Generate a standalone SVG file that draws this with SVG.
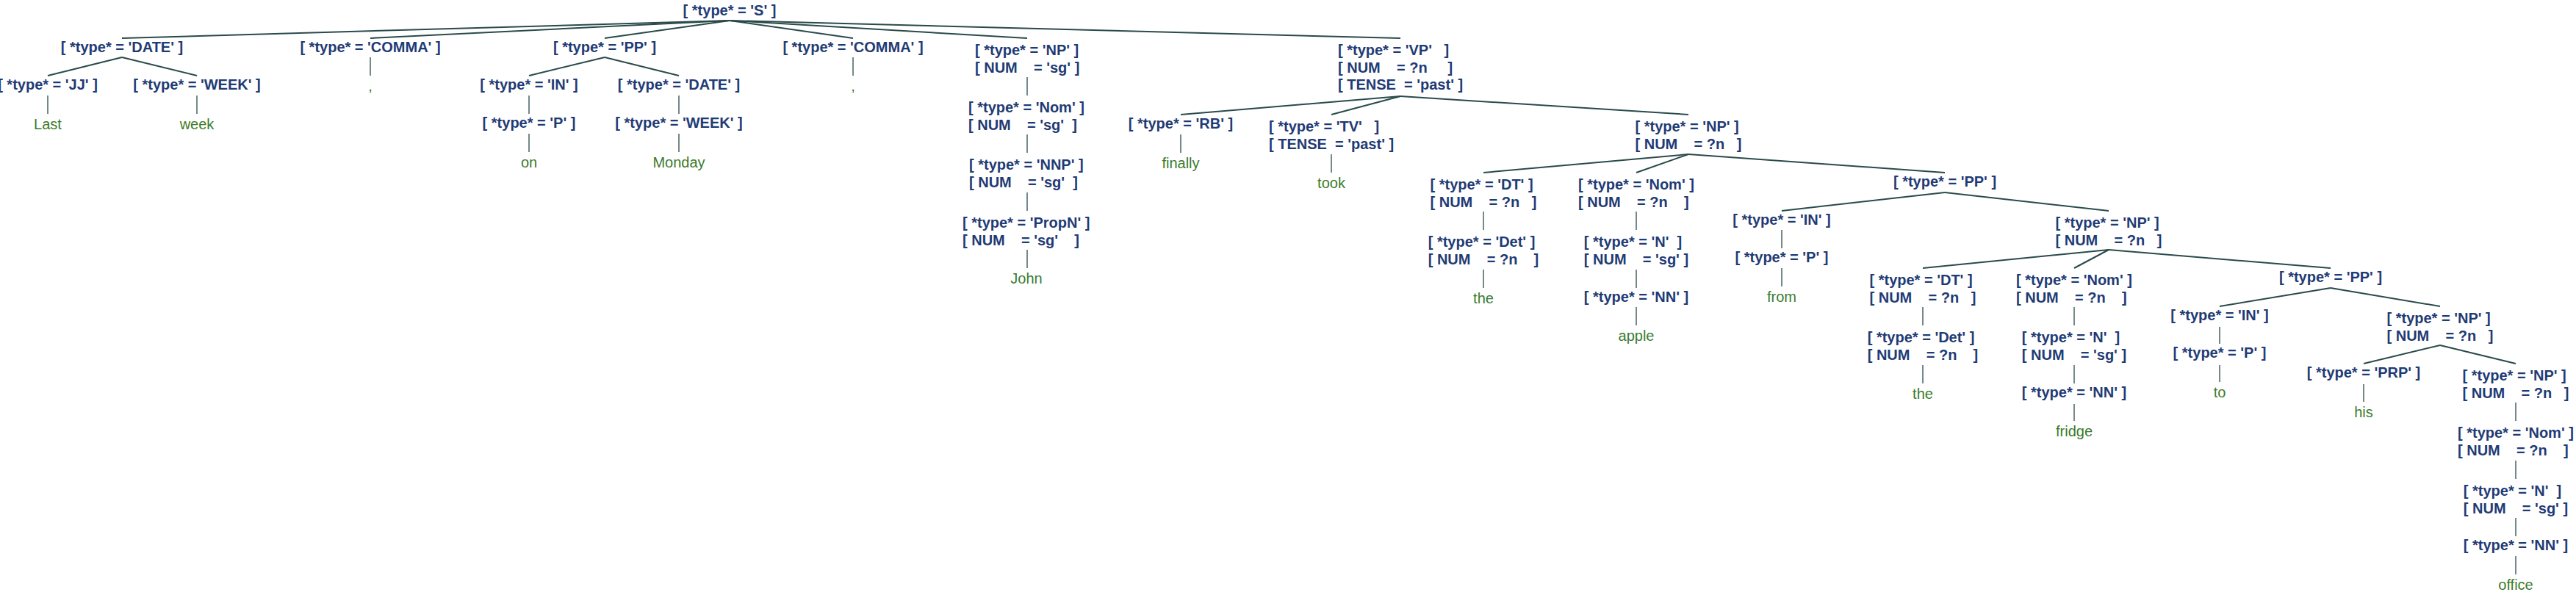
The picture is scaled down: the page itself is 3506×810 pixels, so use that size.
<svg xmlns="http://www.w3.org/2000/svg" width="3506" height="810" viewBox="0 0 3506 810">
<style>
.n{font-family:"Liberation Sans",Arial,sans-serif;font-weight:bold;font-size:20px;fill:#1f3b75}
.l{font-family:"Liberation Sans",Arial,sans-serif;font-size:20px;fill:#3b7b2c;text-anchor:middle}
.c{text-anchor:middle}
.e{stroke:#2a4a4a;stroke-width:2;fill:none}
.v{stroke:#2a4a4a;stroke-width:1.3;fill:none}
</style>
<rect width="3506" height="810" fill="#fff"/>
<g id="connectors">
<line class="e" x1="993" y1="28" x2="166" y2="52"/>
<line class="e" x1="993" y1="28" x2="504" y2="52"/>
<line class="e" x1="993" y1="28" x2="823" y2="52"/>
<line class="e" x1="993" y1="28" x2="1161" y2="52"/>
<line class="e" x1="993" y1="28" x2="1398" y2="52"/>
<line class="e" x1="993" y1="28" x2="1906" y2="52"/>
<line class="e" x1="166" y1="78" x2="65" y2="103"/>
<line class="e" x1="166" y1="78" x2="268" y2="103"/>
<line class="v" x1="65" y1="130" x2="65" y2="155"/>
<line class="v" x1="268" y1="130" x2="268" y2="155"/>
<line class="v" x1="504" y1="78" x2="504" y2="103"/>
<line class="e" x1="823" y1="78" x2="720" y2="103"/>
<line class="e" x1="823" y1="78" x2="924" y2="103"/>
<line class="v" x1="720" y1="130" x2="720" y2="155"/>
<line class="v" x1="720" y1="182" x2="720" y2="207"/>
<line class="v" x1="924" y1="130" x2="924" y2="155"/>
<line class="v" x1="924" y1="182" x2="924" y2="207"/>
<line class="v" x1="1161" y1="78" x2="1161" y2="103"/>
<line class="v" x1="1398" y1="105" x2="1398" y2="130"/>
<line class="v" x1="1398" y1="183" x2="1398" y2="208"/>
<line class="v" x1="1398" y1="262" x2="1398" y2="287"/>
<line class="v" x1="1398" y1="340" x2="1398" y2="365"/>
<line class="e" x1="1906" y1="131" x2="1607" y2="156"/>
<line class="e" x1="1906" y1="131" x2="1812" y2="156"/>
<line class="e" x1="1906" y1="131" x2="2298" y2="156"/>
<line class="v" x1="1607" y1="183" x2="1607" y2="208"/>
<line class="v" x1="1812" y1="210" x2="1812" y2="235"/>
<line class="e" x1="2298" y1="210" x2="2019" y2="235"/>
<line class="e" x1="2298" y1="210" x2="2227" y2="235"/>
<line class="e" x1="2298" y1="210" x2="2647" y2="235"/>
<line class="v" x1="2019" y1="288" x2="2019" y2="313"/>
<line class="v" x1="2019" y1="367" x2="2019" y2="392"/>
<line class="v" x1="2227" y1="288" x2="2227" y2="313"/>
<line class="v" x1="2227" y1="367" x2="2227" y2="392"/>
<line class="v" x1="2227" y1="418" x2="2227" y2="443"/>
<line class="e" x1="2647" y1="262" x2="2425" y2="287"/>
<line class="e" x1="2647" y1="262" x2="2870" y2="287"/>
<line class="v" x1="2425" y1="313" x2="2425" y2="338"/>
<line class="v" x1="2425" y1="365" x2="2425" y2="390"/>
<line class="e" x1="2870" y1="340" x2="2617" y2="365"/>
<line class="e" x1="2870" y1="340" x2="2823" y2="365"/>
<line class="e" x1="2870" y1="340" x2="3172" y2="365"/>
<line class="v" x1="2617" y1="418" x2="2617" y2="443"/>
<line class="v" x1="2617" y1="497" x2="2617" y2="522"/>
<line class="v" x1="2823" y1="418" x2="2823" y2="443"/>
<line class="v" x1="2823" y1="497" x2="2823" y2="522"/>
<line class="v" x1="2823" y1="550" x2="2823" y2="573"/>
<line class="e" x1="3172" y1="392" x2="3021" y2="417"/>
<line class="e" x1="3172" y1="392" x2="3321" y2="417"/>
<line class="v" x1="3021" y1="445" x2="3021" y2="468"/>
<line class="v" x1="3021" y1="497" x2="3021" y2="520"/>
<line class="e" x1="3321" y1="470" x2="3217" y2="495"/>
<line class="e" x1="3321" y1="470" x2="3424" y2="495"/>
<line class="v" x1="3217" y1="523" x2="3217" y2="547"/>
<line class="v" x1="3424" y1="548" x2="3424" y2="573"/>
<line class="v" x1="3424" y1="627" x2="3424" y2="652"/>
<line class="v" x1="3424" y1="705" x2="3424" y2="730"/>
<line class="v" x1="3424" y1="757" x2="3424" y2="782"/>
</g>
<g id="node-S"><text class="n c" x="993" y="21" xml:space="preserve">[ *type* = 'S' ]</text></g>
<g id="node-DATE1"><text class="n c" x="166" y="71" xml:space="preserve">[ *type* = 'DATE' ]</text></g>
<g id="node-JJ"><text class="n c" x="65" y="122" xml:space="preserve">[ *type* = 'JJ' ]</text></g>
<g id="leaf-Last"><text class="l" x="65" y="176">Last</text></g>
<g id="node-WEEK1"><text class="n c" x="268" y="122" xml:space="preserve">[ *type* = 'WEEK' ]</text></g>
<g id="leaf-week"><text class="l" x="268" y="176">week</text></g>
<g id="node-COMMA1"><text class="n c" x="504" y="71" xml:space="preserve">[ *type* = 'COMMA' ]</text></g>
<g id="leaf-comma1"><text class="l" x="504" y="124">,</text></g>
<g id="node-PP1"><text class="n c" x="823" y="71" xml:space="preserve">[ *type* = 'PP' ]</text></g>
<g id="node-IN1"><text class="n c" x="720" y="122" xml:space="preserve">[ *type* = 'IN' ]</text></g>
<g id="node-P1"><text class="n c" x="720" y="174" xml:space="preserve">[ *type* = 'P' ]</text></g>
<g id="leaf-on"><text class="l" x="720" y="228">on</text></g>
<g id="node-DATE2"><text class="n c" x="924" y="122" xml:space="preserve">[ *type* = 'DATE' ]</text></g>
<g id="node-WEEK2"><text class="n c" x="924" y="174" xml:space="preserve">[ *type* = 'WEEK' ]</text></g>
<g id="leaf-Monday"><text class="l" x="924" y="228">Monday</text></g>
<g id="node-COMMA2"><text class="n c" x="1161" y="71" xml:space="preserve">[ *type* = 'COMMA' ]</text></g>
<g id="leaf-comma2"><text class="l" x="1161" y="124">,</text></g>
<g id="node-NP1"><text class="n" xml:space="preserve"><tspan x="1327" y="75">[ *type* = 'NP' ]</tspan><tspan x="1327" y="98.5">[ NUM    = 'sg' ]</tspan></text></g>
<g id="node-Nom1"><text class="n" xml:space="preserve"><tspan x="1318" y="153">[ *type* = 'Nom' ]</tspan><tspan x="1318" y="176.5">[ NUM    = 'sg'  ]</tspan></text></g>
<g id="node-NNP"><text class="n" xml:space="preserve"><tspan x="1319" y="231">[ *type* = 'NNP' ]</tspan><tspan x="1319" y="254.5">[ NUM    = 'sg'  ]</tspan></text></g>
<g id="node-PropN"><text class="n" xml:space="preserve"><tspan x="1310" y="310">[ *type* = 'PropN' ]</tspan><tspan x="1310" y="333.5">[ NUM    = 'sg'    ]</tspan></text></g>
<g id="leaf-John"><text class="l" x="1397" y="386">John</text></g>
<g id="node-VP"><text class="n" xml:space="preserve"><tspan x="1821" y="75">[ *type* = 'VP'   ]</tspan><tspan x="1821" y="98.5">[ NUM    = ?n     ]</tspan><tspan x="1821" y="122">[ TENSE  = 'past' ]</tspan></text></g>
<g id="node-RB"><text class="n c" x="1607" y="175" xml:space="preserve">[ *type* = 'RB' ]</text></g>
<g id="leaf-finally"><text class="l" x="1607" y="229">finally</text></g>
<g id="node-TV"><text class="n" xml:space="preserve"><tspan x="1727" y="179">[ *type* = 'TV'   ]</tspan><tspan x="1727" y="202.5">[ TENSE  = 'past' ]</tspan></text></g>
<g id="leaf-took"><text class="l" x="1812" y="256">took</text></g>
<g id="node-NP2"><text class="n" xml:space="preserve"><tspan x="2225.5" y="179">[ *type* = 'NP' ]</tspan><tspan x="2225.5" y="202.5">[ NUM    = ?n   ]</tspan></text></g>
<g id="node-DT1"><text class="n" xml:space="preserve"><tspan x="1946.5" y="258">[ *type* = 'DT' ]</tspan><tspan x="1946.5" y="281.5">[ NUM    = ?n   ]</tspan></text></g>
<g id="node-Det1"><text class="n" xml:space="preserve"><tspan x="1943.7" y="336">[ *type* = 'Det' ]</tspan><tspan x="1943.7" y="359.5">[ NUM    = ?n    ]</tspan></text></g>
<g id="leaf-the1"><text class="l" x="2019" y="413">the</text></g>
<g id="node-Nom2"><text class="n" xml:space="preserve"><tspan x="2148" y="258">[ *type* = 'Nom' ]</tspan><tspan x="2148" y="281.5">[ NUM    = ?n    ]</tspan></text></g>
<g id="node-N1"><text class="n" xml:space="preserve"><tspan x="2155.8" y="336">[ *type* = 'N'  ]</tspan><tspan x="2155.8" y="359.5">[ NUM    = 'sg' ]</tspan></text></g>
<g id="node-NN1"><text class="n c" x="2227" y="411" xml:space="preserve">[ *type* = 'NN' ]</text></g>
<g id="leaf-apple"><text class="l" x="2227" y="464">apple</text></g>
<g id="node-PP2"><text class="n c" x="2647" y="254" xml:space="preserve">[ *type* = 'PP' ]</text></g>
<g id="node-IN2"><text class="n c" x="2425" y="306" xml:space="preserve">[ *type* = 'IN' ]</text></g>
<g id="node-P2"><text class="n c" x="2425" y="357" xml:space="preserve">[ *type* = 'P' ]</text></g>
<g id="leaf-from"><text class="l" x="2425" y="411">from</text></g>
<g id="node-NP3"><text class="n" xml:space="preserve"><tspan x="2797.5" y="310">[ *type* = 'NP' ]</tspan><tspan x="2797.5" y="333.5">[ NUM    = ?n   ]</tspan></text></g>
<g id="node-DT2"><text class="n" xml:space="preserve"><tspan x="2544.5" y="388">[ *type* = 'DT' ]</tspan><tspan x="2544.5" y="411.5">[ NUM    = ?n   ]</tspan></text></g>
<g id="node-Det2"><text class="n" xml:space="preserve"><tspan x="2541.7" y="466">[ *type* = 'Det' ]</tspan><tspan x="2541.7" y="489.5">[ NUM    = ?n    ]</tspan></text></g>
<g id="leaf-the2"><text class="l" x="2617" y="543">the</text></g>
<g id="node-Nom3"><text class="n" xml:space="preserve"><tspan x="2744" y="388">[ *type* = 'Nom' ]</tspan><tspan x="2744" y="411.5">[ NUM    = ?n    ]</tspan></text></g>
<g id="node-N2"><text class="n" xml:space="preserve"><tspan x="2751.8" y="466">[ *type* = 'N'  ]</tspan><tspan x="2751.8" y="489.5">[ NUM    = 'sg' ]</tspan></text></g>
<g id="node-NN2"><text class="n c" x="2823" y="541" xml:space="preserve">[ *type* = 'NN' ]</text></g>
<g id="leaf-fridge"><text class="l" x="2823" y="594">fridge</text></g>
<g id="node-PP3"><text class="n c" x="3172" y="384" xml:space="preserve">[ *type* = 'PP' ]</text></g>
<g id="node-IN3"><text class="n c" x="3021" y="436" xml:space="preserve">[ *type* = 'IN' ]</text></g>
<g id="node-P3"><text class="n c" x="3021" y="487" xml:space="preserve">[ *type* = 'P' ]</text></g>
<g id="leaf-to"><text class="l" x="3021" y="541">to</text></g>
<g id="node-NP4"><text class="n" xml:space="preserve"><tspan x="3248.5" y="440">[ *type* = 'NP' ]</tspan><tspan x="3248.5" y="463.5">[ NUM    = ?n   ]</tspan></text></g>
<g id="node-PRP"><text class="n c" x="3217" y="514" xml:space="preserve">[ *type* = 'PRP' ]</text></g>
<g id="leaf-his"><text class="l" x="3217" y="568">his</text></g>
<g id="node-NP5"><text class="n" xml:space="preserve"><tspan x="3351.5" y="518">[ *type* = 'NP' ]</tspan><tspan x="3351.5" y="541.5">[ NUM    = ?n   ]</tspan></text></g>
<g id="node-Nom4"><text class="n" xml:space="preserve"><tspan x="3345" y="596">[ *type* = 'Nom' ]</tspan><tspan x="3345" y="619.5">[ NUM    = ?n    ]</tspan></text></g>
<g id="node-N3"><text class="n" xml:space="preserve"><tspan x="3352.8" y="675">[ *type* = 'N'  ]</tspan><tspan x="3352.8" y="698.5">[ NUM    = 'sg' ]</tspan></text></g>
<g id="node-NN3"><text class="n c" x="3424" y="749" xml:space="preserve">[ *type* = 'NN' ]</text></g>
<g id="leaf-office"><text class="l" x="3424" y="803">office</text></g>
</svg>
